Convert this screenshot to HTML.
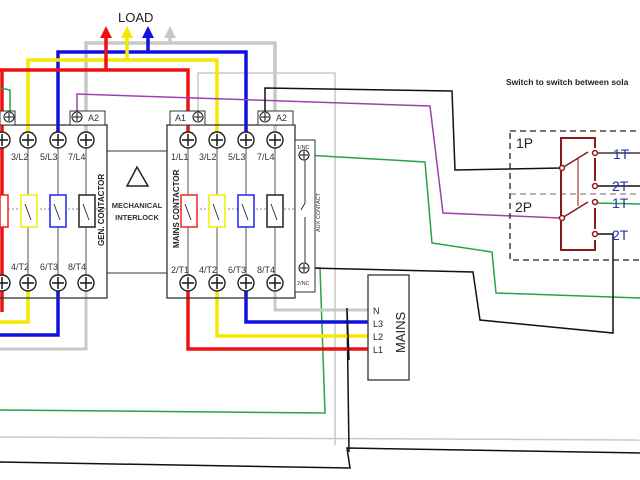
<!DOCTYPE html>
<html><head><meta charset="utf-8"><style>
html,body{margin:0;padding:0;background:#fff;}
svg{display:block;}
text{font-family:"Liberation Sans",sans-serif;}
</style></head><body>
<svg width="640" height="480" viewBox="0 0 640 480" xmlns="http://www.w3.org/2000/svg">
<defs>
<g id="term"><circle r="8" fill="#fff" stroke="#222" stroke-width="1.4"/><line x1="-6" y1="0" x2="6" y2="0" stroke="#222" stroke-width="1.6"/><line x1="0" y1="-6" x2="0" y2="6" stroke="#222" stroke-width="1.6"/></g>
<g id="sterm"><circle r="5" fill="#fff" stroke="#222" stroke-width="1.1"/><line x1="-4" y1="0" x2="4" y2="0" stroke="#222" stroke-width="1.1"/><line x1="0" y1="-4" x2="0" y2="4" stroke="#222" stroke-width="1.1"/></g>
</defs>
<!-- bottom long lines -->
<polyline points="0,410 325,413 320,268 310,268" fill="none" stroke="#2aa24a" stroke-width="1.5"/>
<line x1="0" y1="437" x2="640" y2="440" stroke="#c8c8c8" stroke-width="1.5"/>
<polyline points="0,462 350,468 347,448 640,453" fill="none" stroke="#111" stroke-width="1.5"/>
<line x1="347" y1="308" x2="349" y2="452" stroke="#111" stroke-width="1.5"/>
<!-- gray long -->
<polyline points="198,117 198,73 335,73 335,445" fill="none" stroke="#c8c8c8" stroke-width="1.5"/>
<!-- load wires -->
<polyline points="86,140 86,43 275,43 275,140" fill="none" stroke="#c8c8c8" stroke-width="3.5"/>
<line x1="170" y1="43" x2="170" y2="37" stroke="#c8c8c8" stroke-width="3.5"/>
<polygon points="164,38 176,38 170,26" fill="#c8c8c8"/>
<polyline points="58,140 58,52 246,52 246,140" fill="none" stroke="#1010e0" stroke-width="3.5"/>
<line x1="148" y1="52" x2="148" y2="37" stroke="#1010e0" stroke-width="3.5"/>
<polygon points="142,38 154,38 148,26" fill="#1010e0"/>
<polyline points="28,140 28,60 217,60 217,140" fill="none" stroke="#f5e800" stroke-width="3.5"/>
<line x1="127" y1="60" x2="127" y2="37" stroke="#f5e800" stroke-width="3.5"/>
<polygon points="121,38 133,38 127,26" fill="#f5e800"/>
<polyline points="0,70 188,70 188,140" fill="none" stroke="#ee1111" stroke-width="3.5"/>
<line x1="2" y1="70" x2="2" y2="312" stroke="#ee1111" stroke-width="3.5"/>
<line x1="106" y1="70" x2="106" y2="37" stroke="#ee1111" stroke-width="3.5"/>
<polygon points="100,38 112,38 106,26" fill="#ee1111"/>
<text x="118" y="22" font-size="13" fill="#222">LOAD</text>
<!-- green left small -->
<polyline points="0,88 10,90 10,112" fill="none" stroke="#2aa24a" stroke-width="1.5"/>
<!-- purple -->
<polyline points="77,117 77,94 430,106 443,213 560,218" fill="none" stroke="#a040b0" stroke-width="1.5"/>
<!-- black A2 -->
<polyline points="265,117 265,88 452,91 455,170 562,168" fill="none" stroke="#111" stroke-width="1.5"/>
<!-- green 1/NC -->
<polyline points="305,155 425,162 432,243 492,252 496,293 640,298" fill="none" stroke="#2aa24a" stroke-width="1.5"/>
<!-- black 2/NC -->
<polyline points="310,268 473,272 480,320 613,333 613,234 597,234" fill="none" stroke="#111" stroke-width="1.5"/>
<line x1="594" y1="186" x2="640" y2="186" stroke="#111" stroke-width="1.5"/>
<line x1="594" y1="203" x2="640" y2="204" stroke="#2aa24a" stroke-width="1.5"/>
<line x1="594" y1="153" x2="640" y2="153" stroke="#111" stroke-width="1.2"/>
<!-- gen bottom wires -->
<polyline points="28,283 28,322 0,322" fill="none" stroke="#f5e800" stroke-width="3.5"/>
<polyline points="58,283 58,335 0,335" fill="none" stroke="#1010e0" stroke-width="3.5"/>
<polyline points="86,283 86,349 0,349" fill="none" stroke="#c8c8c8" stroke-width="3"/>
<!-- mains bottom wires -->
<polyline points="275,283 275,310 368,310" fill="none" stroke="#c8c8c8" stroke-width="3"/>
<polyline points="246,283 246,322 368,322" fill="none" stroke="#1010e0" stroke-width="3.5"/>
<polyline points="217,283 217,336 368,336" fill="none" stroke="#f5e800" stroke-width="3.5"/>
<polyline points="188,283 188,349 368,349" fill="none" stroke="#ee1111" stroke-width="3.5"/>
<line x1="347" y1="308" x2="349" y2="360" stroke="#111" stroke-width="1.5"/>
<!-- gen contactor -->
<rect x="-5" y="125" width="112" height="173" fill="none" stroke="#333" stroke-width="1.3"/>
<rect x="0" y="111" width="15" height="14" fill="#fff" stroke="#333"/>
<use href="#sterm" x="9" y="117"/>
<rect x="70" y="111" width="35" height="14" fill="#fff" stroke="#333"/>
<use href="#sterm" x="77" y="117"/><text x="88" y="121" font-size="9" fill="#333">A2</text>
<g stroke="#555" stroke-width="1"><line x1="28" y1="148" x2="28" y2="276"/><line x1="58" y1="148" x2="58" y2="276"/><line x1="86" y1="148" x2="86" y2="276"/></g>
<line x1="0" y1="209" x2="107" y2="209" stroke="#666" stroke-dasharray="2,2" stroke-width="0.8"/>
<rect x="0" y="195" width="8" height="32" fill="#fff" stroke="#e22" stroke-width="1.5"/>
<rect x="21" y="195" width="16" height="32" fill="#fff" stroke="#ee0" stroke-width="1.5"/>
<rect x="50" y="195" width="16" height="32" fill="#fff" stroke="#22e" stroke-width="1.5"/>
<rect x="79" y="195" width="16" height="32" fill="#fff" stroke="#222" stroke-width="1.5"/>
<g stroke="#333" stroke-width="1"><line x1="25" y1="204" x2="31" y2="220"/><line x1="54" y1="204" x2="60" y2="220"/><line x1="83" y1="204" x2="89" y2="220"/></g>
<use href="#term" x="2" y="140"/><use href="#term" x="28" y="140"/><use href="#term" x="58" y="140"/><use href="#term" x="86" y="140"/>
<use href="#term" x="2" y="283"/><use href="#term" x="28" y="283"/><use href="#term" x="58" y="283"/><use href="#term" x="86" y="283"/>
<g font-size="9" fill="#333"><text x="11" y="160">3/L2</text><text x="40" y="160">5/L3</text><text x="68" y="160">7/L4</text>
<text x="11" y="270">4/T2</text><text x="40" y="270">6/T3</text><text x="68" y="270">8/T4</text></g>
<text transform="translate(104,246) rotate(-90)" font-size="8" font-weight="bold" fill="#222">GEN. CONTACTOR</text>
<!-- interlock -->
<line x1="107" y1="151" x2="167" y2="151" stroke="#333"/><line x1="107" y1="273" x2="167" y2="273" stroke="#333"/>
<polygon points="137,167 127,186 148,186" fill="none" stroke="#222" stroke-width="1.5"/>
<text x="137" y="208" font-size="7.5" font-weight="bold" fill="#333" text-anchor="middle">MECHANICAL</text>
<text x="137" y="220" font-size="7.5" font-weight="bold" fill="#333" text-anchor="middle">INTERLOCK</text>
<!-- mains contactor -->
<rect x="167" y="125" width="128" height="173" fill="none" stroke="#333" stroke-width="1.3"/>
<rect x="170" y="111" width="35" height="14" fill="#fff" stroke="#333"/>
<text x="175" y="121" font-size="9" fill="#333">A1</text><use href="#sterm" x="198" y="117"/>
<rect x="258" y="111" width="35" height="14" fill="#fff" stroke="#333"/>
<use href="#sterm" x="265" y="117"/><text x="276" y="121" font-size="9" fill="#333">A2</text>
<g stroke="#555" stroke-width="1"><line x1="188" y1="148" x2="188" y2="276"/><line x1="217" y1="148" x2="217" y2="276"/><line x1="246" y1="148" x2="246" y2="276"/><line x1="275" y1="148" x2="275" y2="276"/></g>
<line x1="180" y1="209" x2="305" y2="209" stroke="#666" stroke-dasharray="2,2" stroke-width="0.8"/>
<rect x="181" y="195" width="16" height="32" fill="#fff" stroke="#e22" stroke-width="1.5"/>
<rect x="209" y="195" width="16" height="32" fill="#fff" stroke="#ee0" stroke-width="1.5"/>
<rect x="238" y="195" width="16" height="32" fill="#fff" stroke="#22e" stroke-width="1.5"/>
<rect x="267" y="195" width="16" height="32" fill="#fff" stroke="#222" stroke-width="1.5"/>
<g stroke="#333" stroke-width="1"><line x1="185" y1="204" x2="191" y2="220"/><line x1="213" y1="204" x2="219" y2="220"/><line x1="242" y1="204" x2="248" y2="220"/><line x1="271" y1="204" x2="277" y2="220"/></g>
<use href="#term" x="188" y="140"/><use href="#term" x="217" y="140"/><use href="#term" x="246" y="140"/><use href="#term" x="275" y="140"/>
<use href="#term" x="188" y="283"/><use href="#term" x="217" y="283"/><use href="#term" x="246" y="283"/><use href="#term" x="275" y="283"/>
<g font-size="9" fill="#333"><text x="171" y="160">1/L1</text><text x="199" y="160">3/L2</text><text x="228" y="160">5/L3</text><text x="257" y="160">7/L4</text>
<text x="171" y="273">2/T1</text><text x="199" y="273">4/T2</text><text x="228" y="273">6/T3</text><text x="257" y="273">8/T4</text></g>
<text transform="translate(179,248) rotate(-90)" font-size="8" font-weight="bold" fill="#222">MAINS CONTACTOR</text>
<!-- aux -->
<rect x="295" y="140" width="20" height="152" fill="#fff" stroke="#333"/>
<text x="297" y="149" font-size="5.5" fill="#333">1/NC</text><text x="297" y="285" font-size="5.5" fill="#333">2/NC</text>
<use href="#sterm" x="304" y="155"/><use href="#sterm" x="304" y="268"/>
<polyline points="305,160 305,203 301,210" fill="none" stroke="#333"/>
<line x1="305" y1="217" x2="305" y2="263" stroke="#333"/>
<text transform="translate(320,232) rotate(-90)" font-size="5.5" fill="#333">AUX CONTACT</text>
<!-- mains box -->
<rect x="368" y="275" width="41" height="105" fill="#fff" stroke="#333" stroke-width="1.3"/>
<g font-size="9" fill="#222"><text x="373" y="314">N</text><text x="373" y="327">L3</text><text x="373" y="340">L2</text><text x="373" y="353">L1</text></g>
<text transform="translate(405,353) rotate(-90)" font-size="13" fill="#222">MAINS</text>
<!-- switch -->
<text x="506" y="85" font-size="8.5" font-weight="bold" fill="#222">Switch to switch between sola</text>
<rect x="510" y="131" width="140" height="129" fill="none" stroke="#222" stroke-width="1.3" stroke-dasharray="6,4"/>
<line x1="510" y1="194" x2="640" y2="194" stroke="#888" stroke-dasharray="6,4" stroke-width="1.2"/>
<text x="516" y="148" font-size="14" fill="#222">1P</text><text x="515" y="212" font-size="14" fill="#222">2P</text>
<g stroke="#8b1a1a" stroke-width="2" fill="none">
<polyline points="561,168 561,138 595,138 595,148"/><polyline points="561,224 561,250 595,250 595,240"/>
<line x1="561" y1="168" x2="561" y2="224"/>
<line x1="595" y1="158" x2="595" y2="181"/><line x1="595" y1="208" x2="595" y2="229"/>
</g>
<g stroke="#8b1a1a" stroke-width="1.5" fill="none">
<line x1="562" y1="168" x2="588" y2="152"/><line x1="562" y1="218" x2="588" y2="202"/>
<line x1="578" y1="158" x2="578" y2="206" stroke-width="1"/>
</g>
<g fill="#fff" stroke="#8b1a1a" stroke-width="1.5">
<circle cx="562" cy="168" r="2.5"/><circle cx="562" cy="218" r="2.5"/>
<circle cx="595" cy="153" r="2.5"/><circle cx="595" cy="186" r="2.5"/><circle cx="595" cy="202" r="2.5"/><circle cx="595" cy="234" r="2.5"/>
</g>
<g font-size="14" fill="#2233aa"><text x="613" y="159">1T</text><text x="612" y="191">2T</text><text x="612" y="208">1T</text><text x="612" y="240">2T</text></g>
</svg>
</body></html>
